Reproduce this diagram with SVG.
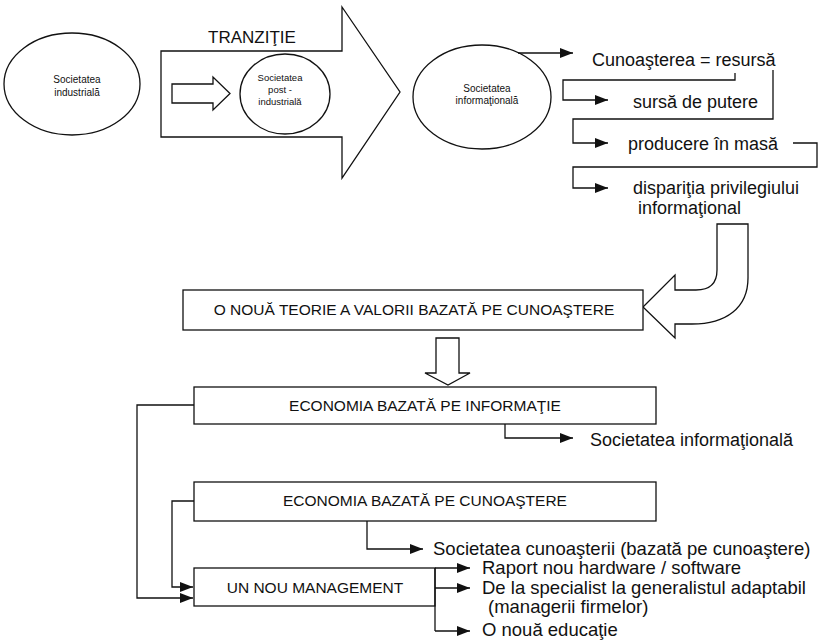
<svg xmlns="http://www.w3.org/2000/svg" width="820" height="643" viewBox="0 0 820 643">
<defs>
<marker id="ah" markerUnits="userSpaceOnUse" markerWidth="14" markerHeight="10" refX="13" refY="5" orient="auto">
<path d="M0,0 L13,5 L0,10 Z" fill="#111"/>
</marker>
<style>
.shape{fill:#fff;stroke:#111;stroke-width:1.3}
.ln{fill:none;stroke:#111;stroke-width:1.3}
.ar{fill:none;stroke:#111;stroke-width:1.3;marker-end:url(#ah)}
text{font-family:"Liberation Sans",Arial,sans-serif;fill:#111}
.sm{font-size:10px;text-anchor:middle}
.xs{font-size:9.5px;text-anchor:middle}
.bx{font-size:15.5px;text-anchor:middle}
.lb{font-size:18px}
.lb2{font-size:18.5px}
</style>
</defs>
<rect width="820" height="643" fill="#fff"/>

<g id="tranzitie">
<path class="shape" d="M161,51 H342 V7 L400,92 L342,178 V137 H161 Z"/>
<text x="252" y="43" font-size="17" text-anchor="middle">TRANZIŢIE</text>
<path class="shape" d="M172,84 H213 V77 L230,93.5 L213,110 V103 H172 Z"/>
</g>

<g id="soc-industriala">
<ellipse class="shape" cx="72" cy="84" rx="68" ry="51"/>
<text class="sm" x="77" y="83">Societatea</text>
<text class="sm" x="77" y="96">industrială</text>
</g>

<g id="soc-postindustriala">
<ellipse class="shape" cx="285" cy="94" rx="45" ry="40"/>
<text class="xs" x="280" y="81">Societatea</text>
<text class="xs" x="280" y="93">post -</text>
<text class="xs" x="280" y="105">industrială</text>
</g>

<g id="soc-informationala">
<ellipse class="shape" cx="482" cy="97" rx="69" ry="52"/>
<text class="sm" x="487" y="92">Societatea</text>
<text class="sm" x="487" y="104">informaţională</text>
</g>

<g id="cunoasterea">
<text class="lb" x="592" y="66">Cunoaşterea = resursă</text>
</g>
<g id="sursa">
<text class="lb" x="633" y="108">sursă de putere</text>
</g>
<g id="producere">
<text class="lb" x="628" y="150">producere în masă</text>
</g>
<g id="disparitia">
<text class="lb" x="633" y="194">dispariţia privilegiului</text>
<text class="lb" x="638" y="214">informaţional</text>
</g>

<g id="curved-arrow">
<path class="shape" d="M717,224 L748,224 L748,278 C748,308 726,324 692,324 L675,324 L675,338 L643,307 L675,275 L675,290 L696,290 C710,290 717,284 717,270 Z"/>
</g>

<g id="teorie">
<rect class="shape" x="183" y="290" width="460" height="40"/>
<text class="bx" x="414" y="315">O NOUĂ TEORIE A VALORII BAZATĂ PE CUNOAŞTERE</text>
</g>

<g id="down-arrow">
<path class="shape" d="M436,338 H459 V373 H470 L448,385 L425,373 H436 Z"/>
</g>

<g id="eco-info">
<rect class="shape" x="194" y="387" width="462" height="37"/>
<text class="bx" x="425" y="411">ECONOMIA BAZATĂ PE INFORMAŢIE</text>
</g>
<g id="soc-info2">
<text class="lb" x="590" y="446" font-size="17.5">Societatea informaţională</text>
</g>

<g id="eco-cun">
<rect class="shape" x="194" y="482" width="462" height="39"/>
<text class="bx" x="425" y="506">ECONOMIA BAZATĂ PE CUNOAŞTERE</text>
</g>
<g id="soc-cun">
<text class="lb2" x="433" y="555">Societatea cunoaşterii (bazată pe cunoaştere)</text>
</g>

<g id="management">
<rect class="shape" x="194" y="568" width="241" height="38"/>
<text class="bx" x="315" y="593">UN NOU MANAGEMENT</text>
</g>
<g id="raport">
<text class="lb2" x="482" y="574">Raport nou hardware / software</text>
</g>
<g id="specialist">
<text class="lb2" x="482" y="594">De la specialist la generalistul adaptabil</text>
<text class="lb2" x="488" y="613">(managerii firmelor)</text>
</g>
<g id="educatie">
<text class="lb2" x="482" y="636">O nouă educaţie</text>
</g>

<g id="connectors">
<path class="ar" d="M518,53 H573"/>
<path class="ar" d="M735,73 V80 H563 V100 H608"/>
<path class="ar" d="M773,70 V119 H573 V143 H608"/>
<path class="ar" d="M793,143 H817 V167 H573 V188 H608"/>
<path class="ar" d="M505,424 V438 H573"/>
<path class="ar" d="M367,521 V549 H423"/>
<path class="ar" d="M194,405 H137 V598 H193"/>
<path class="ar" d="M194,501 H172 V587 H193"/>
<path class="ln" d="M435,568 V631"/>
<path class="ar" d="M435,568 H470"/>
<path class="ar" d="M435,588 H470"/>
<path class="ar" d="M435,631 H470"/>
</g>
</svg>
